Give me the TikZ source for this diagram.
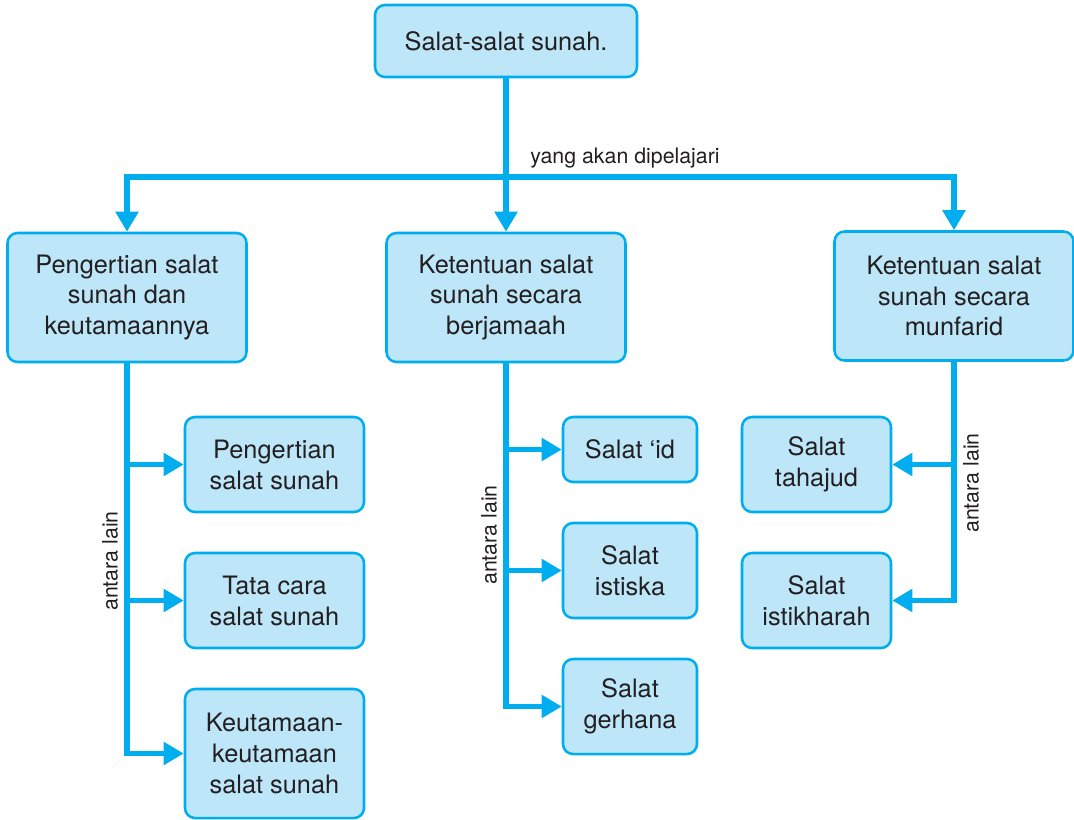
\documentclass[tikz,border=0pt]{standalone}
\usepackage{fontspec}
\setmainfont{TeX Gyre Heros}
\usetikzlibrary{arrows.meta}
\definecolor{linecol}{HTML}{00AEEF}
\definecolor{boxfill}{HTML}{BDE6F9}
\definecolor{txt}{HTML}{231F20}
\begin{document}
\begin{tikzpicture}[x=0.75pt,y=-0.75pt,
  box/.style={draw=linecol,fill=boxfill,line width=1.9pt,rounded corners=7.5pt,
    align=center,inner sep=0pt,text=txt,font=\fontsize{19}{23.2}\selectfont},
  conn/.style={draw=linecol,line width=3.8pt,-{Triangle[length=15pt,width=16.5pt]}},
  note/.style={text=txt,font=\fontsize{16}{18}\selectfont,inner sep=0pt}]
\useasboundingbox (0,0) rectangle (1074,819);

% root
\node[box,minimum width=196.5pt,minimum height=54pt] (root) at (506,41) {Salat-salat sunah.};

% second level
\node[box,minimum width=179.25pt,minimum height=96.75pt] (left) at (127,297.5)
  {Pengertian salat\\sunah dan\\keutamaannya};
\node[box,minimum width=179.25pt,minimum height=96.75pt] (mid) at (506,297.5)
  {Ketentuan salat\\sunah secara\\berjamaah};
\node[box,minimum width=179.25pt,minimum height=96.75pt] (right) at (954,296)
  {Ketentuan salat\\sunah secara\\munfarid};

% left column
\node[box,minimum width=134.25pt,minimum height=71.25pt] (l1) at (274.5,464.5)
  {Pengertian\\salat sunah};
\node[box,minimum width=134.25pt,minimum height=71.25pt] (l2) at (274.5,600.5)
  {Tata cara\\salat sunah};
\node[box,minimum width=134.25pt,minimum height=96.75pt] (l3) at (274.5,753.5)
  {Keutamaan-\\keutamaan\\salat sunah};

% middle column
\node[box,minimum width=100.5pt,minimum height=48.75pt] (m1) at (630,449.5)
  {Salat ‘id};
\node[box,minimum width=100.5pt,minimum height=71.25pt] (m2) at (630,570.5)
  {Salat\\istiska};
\node[box,minimum width=100.5pt,minimum height=71.25pt] (m3) at (630,706.5)
  {Salat\\gerhana};

% right column
\node[box,minimum width=111.75pt,minimum height=71.25pt] (r1) at (816.5,464.5)
  {Salat\\tahajud};
\node[box,minimum width=111.75pt,minimum height=71.25pt] (r2) at (816.5,600.5)
  {Salat\\istikharah};

% top distribution
\coordinate (hub) at (506,177);
\draw[conn] (root.south) -- (mid.north);
\draw[conn] (hub) -| (left.north);
\draw[conn] (hub) -| (right.north);
\node[note,anchor=base] (lbltop) at (625,163) {yang akan dipelajari};

% branches
\draw[conn] (left.south) |- (l1.west);
\draw[conn] (left.south) |- (l2.west);
\draw[conn] (left.south) |- (l3.west);
\draw[conn] (mid.south) |- (m1.west);
\draw[conn] (mid.south) |- (m2.west);
\draw[conn] (mid.south) |- (m3.west);
\draw[conn] (right.south) |- (r1.east);
\draw[conn] (right.south) |- (r2.east);

% side labels
\node[note,rotate=90] (lbll) at (110,561) {antara lain};
\node[note,rotate=90] (lblm) at (489,535) {antara lain};
\node[note,rotate=90] (lblr) at (971,483) {antara lain};
\end{tikzpicture}
\end{document}
